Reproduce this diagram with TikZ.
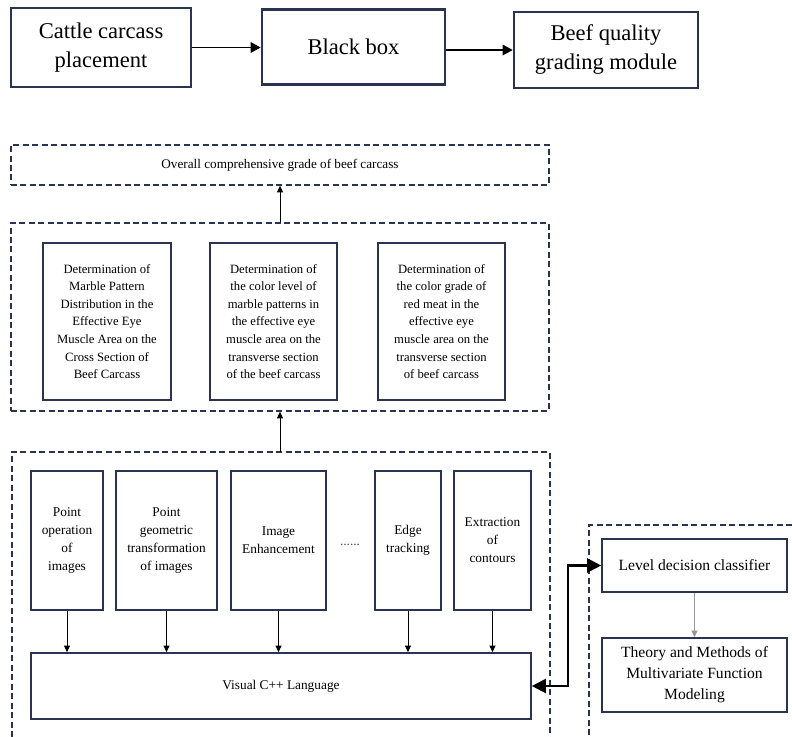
\documentclass[tikz,border=0pt]{standalone}
\usepackage{fontspec}
\setmainfont{Liberation Serif}
\usetikzlibrary{arrows.meta}
\definecolor{boxnavy}{RGB}{40,52,82}
\definecolor{linkgray}{RGB}{150,150,150}

\begin{document}
\begin{tikzpicture}[x=0.75pt, y=-0.75pt,
		bigbox/.style={draw=boxnavy, line width=2pt, align=center, inner sep=0pt, font=\fontsize{16.9}{21.75}\selectfont},
		framebox/.style={draw=boxnavy, line width=1pt, dash pattern=on 4.5pt off 2.6pt},
		gradebox/.style={draw=boxnavy, line width=1.2pt, align=center, inner sep=0pt, minimum height=117.75pt, font=\fontsize{9.5}{13.2}\selectfont},
		opbox/.style={draw=boxnavy, line width=1.2pt, align=center, inner sep=0pt, minimum height=104.25pt, font=\fontsize{10}{13.5}\selectfont},
		modelbox/.style={draw=boxnavy, line width=1.2pt, align=center, inner sep=0pt, minimum width=138.75pt, font=\fontsize{11.7}{15.75}\selectfont},
		bigarrow/.style={line width=0.8pt, -{Triangle[length=7.5pt,width=8pt]}},
		thinarrow/.style={line width=0.7pt, -{Triangle[length=5pt,width=4.5pt]}},
		linkarrow/.style={line width=1.6pt, {Triangle[length=10.5pt,width=10.5pt]}-{Triangle[length=10.5pt,width=10.5pt]}}]
		\useasboundingbox (0,0) rectangle (792,737);
		% top row
		\node[bigbox, minimum width=135pt, minimum height=59.25pt] (cattle) at (101,47.5) {Cattle carcass\\placement};
		\node[bigbox, minimum width=137.25pt, minimum height=56.25pt] (blackbox) at (353.5,47) {Black box};
		\node[bigbox, minimum width=138pt, minimum height=57pt] (grading) at (606,50) {Beef quality\\grading module};
		\draw[bigarrow] (cattle.east) -- (cattle.east -| blackbox.west);
		\draw[bigarrow] (blackbox.east |- grading.west) -- (grading.west);
		% grades
		\node[framebox, minimum width=403.5pt, minimum height=30pt, font=\fontsize{9.9}{12}\selectfont] (overall) at (280,165) {Overall comprehensive grade of beef carcass};
		\node[framebox, minimum width=403.5pt, minimum height=141pt] (midframe) at (280,317) {};
		\node[gradebox, minimum width=96pt] (marble) at (107,321.5) {Determination of\\Marble Pattern\\Distribution in the\\Effective Eye\\Muscle Area on the\\Cross Section of\\Beef Carcass};
		\node[gradebox, minimum width=95.25pt] (marblecolor) at (273.5,321.5) {Determination of\\the color level of\\marble patterns in\\the effective eye\\muscle area on the\\transverse section\\of the beef carcass};
		\node[gradebox, minimum width=95.25pt] (redmeat) at (441.5,321.5) {Determination of\\the color grade of\\red meat in the\\effective eye\\muscle area on the\\transverse section\\of beef carcass};
		\draw[thinarrow] (midframe.north) -- (overall.south);
		% image processing
		\coordinate (lowtop) at (280,452);
		\draw[framebox] (12,737) -- (12,452) -- (550,452) -- (550,737);
		\draw[thinarrow] (lowtop) -- (midframe.south);
		\node[opbox, minimum width=54pt] (pointop) at (67,540.5) {Point\\operation\\of\\images};
		\node[opbox, minimum width=75.75pt] (geomop) at (166.5,540.5) {Point\\geometric\\transformation\\of images};
		\node[opbox, minimum width=71.25pt] (enhance) at (278.5,540.5) {Image\\Enhancement};
		\node[font=\fontsize{10}{12}\selectfont, text=black!70] (dots) at (350,545) {......};
		\node[opbox, minimum width=49.5pt] (edge) at (408,540.5) {Edge\\tracking};
		\node[opbox, minimum width=57.75pt] (contour) at (492.5,540.5) {Extraction\\of\\contours};
		\node[opbox, minimum width=375pt, minimum height=49.5pt] (visual) at (281,686) {Visual C++ Language};
		\foreach \op in {pointop,geomop,enhance,edge,contour}
			\draw[thinarrow] (\op.south) -- (\op.south |- visual.north);
		% classifier
		\draw[framebox] (792,525) -- (589,525) -- (589,737);
		\node[modelbox, minimum height=39.75pt] (level) at (694.5,565.5) {Level decision classifier};
		\node[modelbox, minimum height=55.5pt] (theory) at (694.5,675) {Theory and Methods of\\Multivariate Function\\Modeling};
		\draw[thinarrow, draw=linkgray] (level.south) -- (theory.north);
		\draw[linkarrow] (visual.east) -- ++(36,0) |- (level.west);
\end{tikzpicture}
\end{document}
